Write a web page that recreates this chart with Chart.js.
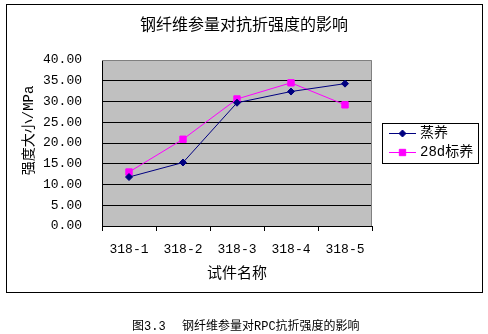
<!DOCTYPE html>
<html><head><meta charset="utf-8">
<script src="https://cdn.jsdelivr.net/npm/chart.js@4.4.0/dist/chart.umd.min.js"></script>
<style>html,body{margin:0;padding:0;background:#fff;}#wrap{position:relative;width:488px;height:334px;}</style>
</head><body><div id="wrap"><canvas id="c" width="488" height="334"></canvas></div>
<script>
const categories = ['318-1', '318-2', '318-3', '318-4', '318-5'];
const steamCured = [11.8, 15.3, 29.7, 32.4, 34.3];
const standard28d = [13.0, 20.9, 30.6, 34.5, 29.2];
const seriesNames = ['蒸养', '28d标养'];
const yMin = 0, yMax = 40, yStep = 5;
const chartTitle = '钢纤维参量对抗折强度的影响';
const yAxisTitle = '   强度大小/MPa';
const xAxisTitle = '试件名称';
const captionLabel = '图3.3';
const captionText = '钢纤维参量对RPC抗折强度的影响';

const MONO = '"Liberation Mono", "Noto Sans CJK SC", monospace';
const CJK = '"Noto Sans CJK SC", sans-serif';

const decor = {
  id: 'decor',
  beforeDraw(chart) {
    const {ctx, chartArea: a} = chart;
    ctx.save();
    ctx.fillStyle = '#fff';
    ctx.fillRect(0, 0, chart.width, chart.height);
    ctx.fillStyle = '#C0C0C0';
    ctx.fillRect(a.left, a.top, a.right - a.left, a.bottom - a.top);
    ctx.restore();
  },
  beforeDatasetsDraw(chart) {
    const {ctx, chartArea: a} = chart;
    ctx.save();
    ctx.strokeStyle = '#808080';
    ctx.lineWidth = 1;
    ctx.beginPath();
    ctx.moveTo(a.left, Math.round(a.top) + 0.5);
    ctx.lineTo(Math.round(a.right) - 0.5, Math.round(a.top) + 0.5);
    ctx.lineTo(Math.round(a.right) - 0.5, a.bottom);
    ctx.stroke();
    ctx.restore();
  },
  afterDraw(chart) {
    const {ctx} = chart;
    ctx.save();
    ctx.strokeStyle = '#000';
    ctx.lineWidth = 1;
    ctx.strokeRect(6.5, 4.5, 476, 288);
    ctx.fillStyle = '#000';
    ctx.font = '16px ' + CJK;
    ctx.textAlign = 'center';
    ctx.textBaseline = 'middle';
    ctx.fillText(chartTitle, 244, 24);
    ctx.strokeRect(382.5, 123.5, 96, 40);
    const ys = [133.5, 152.5];
    chart.data.datasets.forEach((ds, i) => {
      const y = ys[i];
      ctx.strokeStyle = ds.borderColor;
      ctx.lineWidth = 1;
      ctx.beginPath();
      ctx.moveTo(389, y);
      ctx.lineTo(416, y);
      ctx.stroke();
      ctx.fillStyle = ds.backgroundColor;
      Chart.helpers.drawPoint(ctx, {pointStyle: ds.pointStyle, radius: ds.pointRadius, rotation: 0, borderWidth: 1}, 402.5, y);
      ctx.fillStyle = '#000';
      ctx.font = '14px ' + MONO;
      ctx.textAlign = 'left';
      ctx.textBaseline = 'middle';
      ctx.fillText(ds.label, 420, y);
    });
    ctx.fillStyle = '#000';
    ctx.font = '12px ' + MONO;
    ctx.textAlign = 'left';
    ctx.textBaseline = 'middle';
    ctx.fillText(captionLabel, 132, 327);
    ctx.fillText(captionText, 182, 327);
    ctx.restore();
  }
};

new Chart(document.getElementById('c'), {
  type: 'line',
  data: {
    labels: categories,
    datasets: [
      {label: seriesNames[0], data: steamCured, borderColor: '#000080', backgroundColor: '#000080',
       pointStyle: 'rectRot', pointRadius: 3.5, borderWidth: 1, pointBorderWidth: 1, tension: 0},
      {label: seriesNames[1], data: standard28d, borderColor: '#FF00FF', backgroundColor: '#FF00FF',
       pointStyle: 'rect', pointRadius: 4.5, borderWidth: 1, pointBorderWidth: 1, tension: 0}
    ]
  },
  options: {
    responsive: false,
    animation: false,
    devicePixelRatio: 1,
    layout: {padding: {left: 0, right: 116, top: 60, bottom: 0}},
    plugins: {legend: {display: false}, title: {display: false}, tooltip: {enabled: false}},
    scales: {
      x: {
        type: 'category',
        offset: true,
        grid: {offset: true, drawOnChartArea: false, drawTicks: true, tickLength: 5, color: '#000', lineWidth: 1},
        border: {display: true, color: '#000', width: 1},
        ticks: {font: {family: MONO, size: 13}, color: '#000', padding: 11, maxRotation: 0, autoSkip: false},
        title: {display: true, text: xAxisTitle, color: '#000', font: {family: CJK, size: 15}, padding: {top: 0, bottom: 53}},
        afterFit: s => { s.height = 108; }
      },
      y: {
        min: yMin, max: yMax,
        ticks: {stepSize: yStep, callback: v => Number(v).toFixed(2), font: {family: MONO, size: 13}, color: '#000', padding: 6},
        grid: {color: c => (c.tick && c.tick.value === yMax) ? 'rgba(0,0,0,0)' : '#000', drawTicks: true, tickLength: 14, tickColor: 'rgba(0,0,0,0)', lineWidth: 1},
        border: {display: true, color: '#000', width: 1},
        title: {display: true, text: yAxisTitle, color: '#000', font: {family: MONO, size: 14}, padding: {top: 21, bottom: 0}},
        afterFit: s => { s.width = 102; }
      }
    }
  },
  plugins: [decor]
});
</script>
</body></html>
